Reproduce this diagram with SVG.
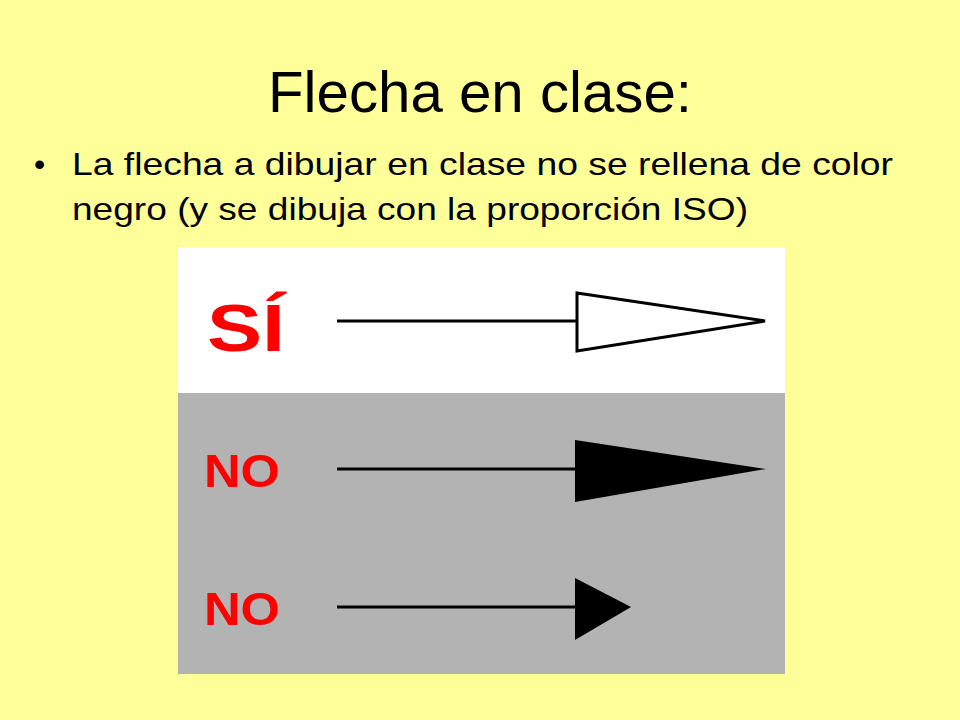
<svg xmlns="http://www.w3.org/2000/svg" width="960" height="720" viewBox="0 0 960 720">
<style>
.t{font-family:"Liberation Sans",Arial,sans-serif;fill:#000}
.lbl{font-family:"Liberation Sans",Arial,sans-serif;font-weight:bold;fill:#FF0000}
.shaft{stroke:#000;stroke-width:3;fill:none}
</style>
<rect width="960" height="720" fill="#FFFF99"/>
<text class="t" x="480" y="112" font-size="58" text-anchor="middle" textLength="424" lengthAdjust="spacingAndGlyphs">Flecha en clase:</text>
<text class="t" x="34" y="175" font-size="32">•</text>
<text class="t" x="72" y="175" font-size="32" textLength="821" lengthAdjust="spacingAndGlyphs">La flecha a dibujar en clase no se rellena de color</text>
<text class="t" x="72" y="220" font-size="32" textLength="676" lengthAdjust="spacingAndGlyphs">negro (y se dibuja con la proporción ISO)</text>
<g id="panel">
<rect x="178" y="247" width="607" height="146" fill="#FFFFFF"/>
<rect x="178" y="393" width="607" height="281" fill="#B3B3B3"/>
</g>
<g id="si">
<text class="lbl" x="207" y="351" font-size="66" textLength="78" lengthAdjust="spacingAndGlyphs">SÍ</text>
</g>
<g id="no1">
<text class="lbl" x="204" y="487" font-size="46" textLength="76" lengthAdjust="spacingAndGlyphs">NO</text>
</g>
<g id="no2">
<text class="lbl" x="204" y="625" font-size="46" textLength="76" lengthAdjust="spacingAndGlyphs">NO</text>
</g>
<g id="connectors">
<line class="shaft" x1="337" y1="321" x2="577" y2="321"/>
<polygon points="577,293 765,321 577,351" fill="#FFFFFF" stroke="#000" stroke-width="3" stroke-linejoin="miter"/>
<line class="shaft" x1="337" y1="469" x2="577" y2="469"/>
<polygon points="575,440 766,469 575,502" fill="#000"/>
<line class="shaft" x1="337" y1="607" x2="577" y2="607"/>
<polygon points="575,578 631,607 575,640" fill="#000"/>
</g>
</svg>
